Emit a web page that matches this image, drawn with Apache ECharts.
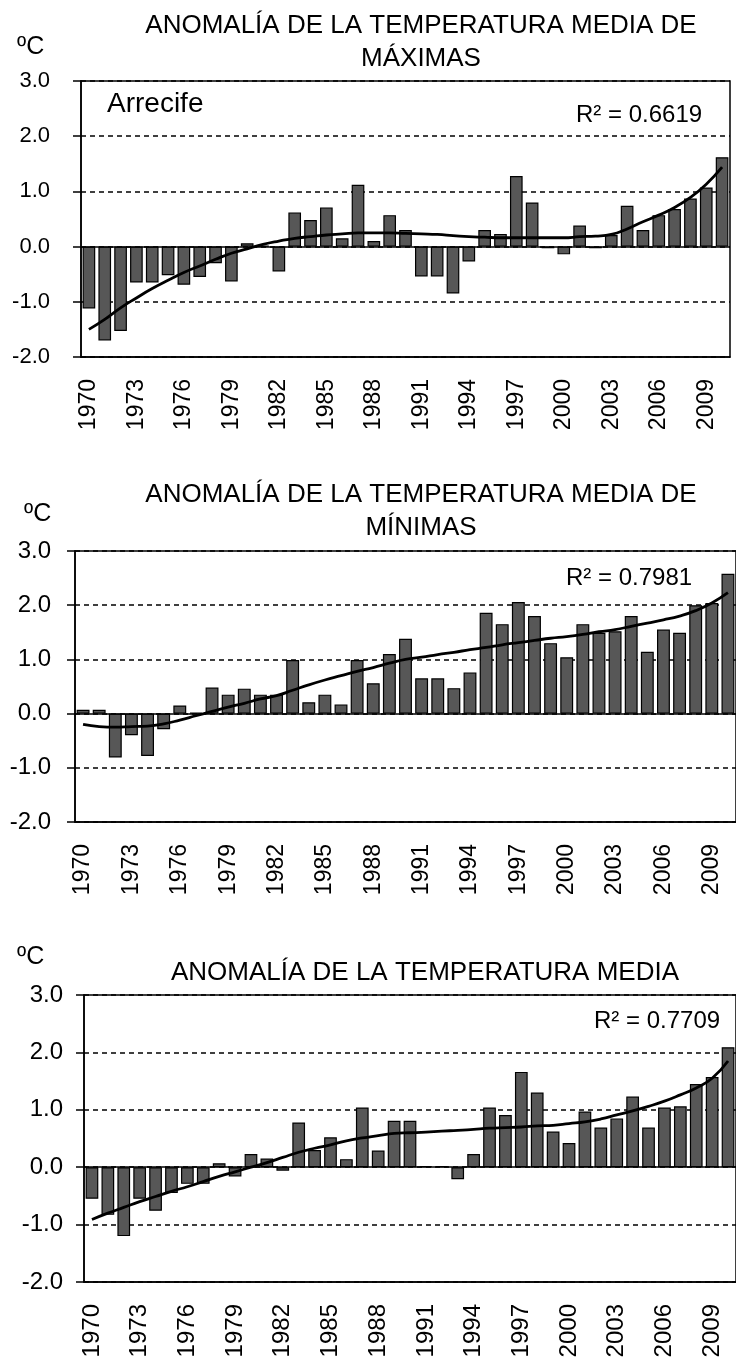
<!DOCTYPE html>
<html>
<head>
<meta charset="utf-8">
<title>Anomalía de la temperatura - Arrecife</title>
<script src="https://cdn.jsdelivr.net/npm/echarts@6/dist/echarts.min.js"></script>
<style>
  html, body { margin: 0; padding: 0; background: #fff; }
  #main { width: 736px; height: 1364px; }
</style>
</head>
<body>
<div id="main"></div>
<script>
  // años de la serie
  var years = ['1970','1971','1972','1973','1974','1975','1976','1977','1978','1979',
               '1980','1981','1982','1983','1984','1985','1986','1987','1988','1989',
               '1990','1991','1992','1993','1994','1995','1996','1997','1998','1999',
               '2000','2001','2002','2003','2004','2005','2006','2007','2008','2009','2010'];

  // anomalía de la temperatura media de máximas
  var maxAnom = [-1.12, -1.70, -1.53, -0.65, -0.65, -0.52, -0.69, -0.55, -0.30, -0.63,
                  0.06,  0.02, -0.45,  0.62,  0.48,  0.71,  0.15,  1.12,  0.10,  0.57,
                  0.30, -0.54, -0.54, -0.85, -0.27,  0.30,  0.23,  1.28,  0.80, -0.03,
                 -0.14,  0.38, -0.03,  0.21,  0.74,  0.30,  0.57,  0.68,  0.87,  1.07, 1.62];
  var maxTrend = [-1.50, -1.32, -1.11, -0.93, -0.76, -0.61, -0.47, -0.35, -0.23, -0.12,
                  -0.04,  0.04,  0.10,  0.15,  0.18,  0.21,  0.23,  0.25,  0.25,  0.25,
                   0.24,  0.23,  0.22,  0.20,  0.18,  0.17,  0.16,  0.16,  0.16,  0.16,
                   0.16,  0.18,  0.19,  0.22,  0.32,  0.45,  0.57,  0.71,  0.89,  1.13, 1.44];

  // anomalía de la temperatura media de mínimas
  var minAnom = [ 0.07,  0.07, -0.81, -0.40, -0.78, -0.29,  0.15,  0.02,  0.48,  0.35,
                  0.46,  0.35,  0.35,  0.99,  0.21,  0.35,  0.17,  0.99,  0.56,  1.10,
                  1.38,  0.65,  0.65,  0.47,  0.76,  1.86,  1.65,  2.06,  1.80,  1.30,
                  1.04,  1.65,  1.49,  1.52,  1.80,  1.14,  1.55,  1.49,  2.00,  2.04, 2.58];
  var minTrend = [-0.20, -0.24, -0.25, -0.24, -0.23, -0.19, -0.12, -0.04,  0.04,  0.12,
                   0.19,  0.27,  0.33,  0.43,  0.53,  0.62,  0.70,  0.78,  0.85,  0.93,
                   1.00,  1.04,  1.09,  1.13,  1.18,  1.22,  1.27,  1.31,  1.35,  1.39,
                   1.42,  1.46,  1.51,  1.55,  1.61,  1.67,  1.73,  1.80,  1.90,  2.04, 2.23];

  // anomalía de la temperatura media
  var medAnom = [-0.55, -0.83, -1.20, -0.55, -0.76, -0.45, -0.29, -0.29,  0.07, -0.16,
                  0.23,  0.15, -0.06,  0.78,  0.30,  0.52,  0.14,  1.04,  0.29,  0.81,
                  0.81,  0.02,  0.02, -0.21,  0.23,  1.04,  0.91,  1.66,  1.30,  0.62,
                  0.42,  0.97,  0.69,  0.85,  1.23,  0.69,  1.04,  1.06,  1.45,  1.57, 2.09];
  var medTrend = [-0.91, -0.80, -0.70, -0.60, -0.51, -0.42, -0.34, -0.25, -0.16, -0.08,
                   0.00,  0.08,  0.17,  0.26,  0.33,  0.39,  0.46,  0.51,  0.55,  0.59,
                   0.60,  0.61,  0.63,  0.64,  0.66,  0.68,  0.69,  0.70,  0.72,  0.73,
                   0.76,  0.79,  0.84,  0.91,  0.98,  1.06,  1.15,  1.26,  1.38,  1.55, 1.85];

  var fuente = "'Liberation Sans', Arial, sans-serif";

  var myChart = echarts.init(document.getElementById('main'));

  function texto(t, left, top, size, align, lh) {
    return {
      text: t, left: left, top: top, padding: 0,
      textAlign: align || 'left',
      textStyle: { fontFamily: fuente, fontSize: size, fontWeight: 'normal', color: '#000', lineHeight: lh || Math.round(size * 1.25) }
    };
  }

  function rejilla(left, top, width, height) {
    return { left: left, top: top, width: width, height: height, show: true, borderColor: '#000', borderWidth: 1.5 };
  }

  function ejeX(i, size) {
    return {
      type: 'category', gridIndex: i, data: years,
      axisLine: { show: true, onZero: false, lineStyle: { color: '#000', width: 1.5 } },
      axisTick: { show: false },
      axisLabel: { interval: 2, rotate: 90, color: '#000', fontFamily: fuente, fontSize: size, margin: 22 },
      splitLine: { show: false }
    };
  }

  function ejeY(i, size, margen) {
    return {
      type: 'value', gridIndex: i, min: -2, max: 3, interval: 1,
      axisLine: { show: true, lineStyle: { color: '#000', width: 1.5 } },
      axisTick: { show: true, length: 8, lineStyle: { color: '#000', width: 1.5 } },
      axisLabel: { color: '#000', fontFamily: fuente, fontSize: size, margin: margen,
                   formatter: function (v) { return v.toFixed(1); } },
      splitLine: { show: true, lineStyle: { color: '#000', width: 1.5, type: [5, 4] } }
    };
  }

  function barras(i, datos) {
    return {
      type: 'bar', xAxisIndex: i, yAxisIndex: i, data: datos,
      barCategoryGap: '20%',
      itemStyle: { color: '#575757', borderColor: '#000', borderWidth: 1.2 },
      markLine: {
        silent: true, symbol: ['none', 'none'], label: { show: false },
        lineStyle: { color: '#000', type: 'solid', width: 1.5 },
        data: [{ yAxis: 0 }]
      }
    };
  }

  function tendencia(i, datos) {
    return {
      type: 'line', xAxisIndex: i, yAxisIndex: i, data: datos,
      smooth: true, showSymbol: false, symbol: 'none', z: 5,
      lineStyle: { color: '#000', width: 2.8 }
    };
  }

  myChart.setOption({
    animation: false,
    backgroundColor: '#fff',
    title: [
      texto('ANOMALÍA DE LA TEMPERATURA MEDIA DE\nMÁXIMAS', 421, 9, 26, 'center', 33),
      texto('ºC', 17, 32, 25),
      texto('Arrecife', 107, 87, 28),
      texto('R² = 0.6619', 576, 100, 24),

      texto('ANOMALÍA DE LA TEMPERATURA MEDIA DE\nMÍNIMAS', 421, 478, 26, 'center', 33),
      texto('ºC', 24, 499, 25),
      texto('R² = 0.7981', 566, 563, 24),

      texto('ANOMALÍA DE LA TEMPERATURA MEDIA', 425, 956, 26, 'center'),
      texto('ºC', 17, 942, 25),
      texto('R² = 0.7709', 594, 1006, 24)
    ],
    grid: [
      rejilla(81, 81, 649, 276),
      rejilla(75, 551, 664, 271),
      rejilla(84, 995, 664, 287)
    ],
    xAxis: [ejeX(0, 23), ejeX(1, 23), ejeX(2, 24)],
    yAxis: [ejeY(0, 22, 31), ejeY(1, 24, 24), ejeY(2, 24, 21)],
    series: [
      barras(0, maxAnom), tendencia(0, maxTrend),
      barras(1, minAnom), tendencia(1, minTrend),
      barras(2, medAnom), tendencia(2, medTrend)
    ]
  });
</script>
</body>
</html>
